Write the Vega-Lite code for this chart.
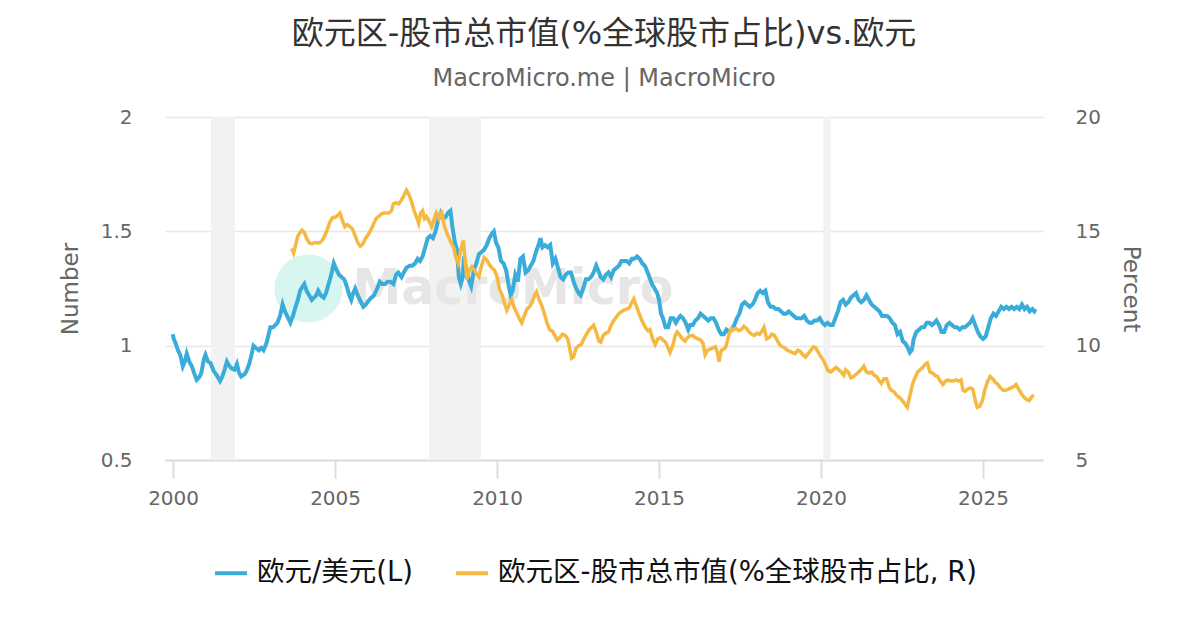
{
  "$schema": "https://vega.github.io/schema/vega-lite/v6.json",
  "width": 878,
  "height": 343,
  "autosize": "none",
  "padding": {"left": 165, "top": 117, "right": 157, "bottom": 170},
  "background": "#ffffff",
  "title": {
    "text": "欧元区-股市总市值(%全球股市占比)vs.欧元",
    "subtitle": "MacroMicro.me | MacroMicro",
    "anchor": "middle",
    "font": "DejaVu Sans, Noto Sans CJK SC",
    "fontSize": 32,
    "fontWeight": "normal",
    "color": "#333333",
    "subtitleFont": "DejaVu Sans",
    "subtitleFontSize": 24,
    "subtitleColor": "#666666",
    "subtitlePadding": 16,
    "offset": 15
  },
  "datasets": {
    "rec": [
      {"s": 2001.17, "e": 2001.91},
      {"s": 2007.9, "e": 2009.5},
      {"s": 2020.07, "e": 2020.29}
    ],
    "fx": [
      {"t": 1999.99, "v": 1.05}, {"t": 2000.02, "v": 1.03}, {"t": 2000.08, "v": 1.01}, {"t": 2000.15, "v": 0.98},
      {"t": 2000.22, "v": 0.96}, {"t": 2000.3, "v": 0.91}, {"t": 2000.36, "v": 0.93}, {"t": 2000.42, "v": 0.965},
      {"t": 2000.5, "v": 0.93}, {"t": 2000.58, "v": 0.91}, {"t": 2000.65, "v": 0.88}, {"t": 2000.73, "v": 0.85},
      {"t": 2000.8, "v": 0.86}, {"t": 2000.87, "v": 0.88}, {"t": 2000.95, "v": 0.94}, {"t": 2001.0, "v": 0.96},
      {"t": 2001.08, "v": 0.93}, {"t": 2001.15, "v": 0.925}, {"t": 2001.25, "v": 0.89}, {"t": 2001.35, "v": 0.87},
      {"t": 2001.45, "v": 0.845}, {"t": 2001.52, "v": 0.865}, {"t": 2001.6, "v": 0.9}, {"t": 2001.66, "v": 0.93},
      {"t": 2001.74, "v": 0.91}, {"t": 2001.81, "v": 0.9}, {"t": 2001.9, "v": 0.895}, {"t": 2001.97, "v": 0.92},
      {"t": 2002.04, "v": 0.88}, {"t": 2002.1, "v": 0.865}, {"t": 2002.2, "v": 0.875}, {"t": 2002.27, "v": 0.89},
      {"t": 2002.35, "v": 0.92}, {"t": 2002.42, "v": 0.96}, {"t": 2002.48, "v": 1.0}, {"t": 2002.56, "v": 0.99},
      {"t": 2002.65, "v": 0.98}, {"t": 2002.72, "v": 0.99}, {"t": 2002.79, "v": 0.98}, {"t": 2002.88, "v": 1.01},
      {"t": 2002.95, "v": 1.05}, {"t": 2003.0, "v": 1.08}, {"t": 2003.08, "v": 1.08}, {"t": 2003.15, "v": 1.09},
      {"t": 2003.22, "v": 1.1}, {"t": 2003.3, "v": 1.13}, {"t": 2003.38, "v": 1.18}, {"t": 2003.45, "v": 1.15},
      {"t": 2003.55, "v": 1.12}, {"t": 2003.62, "v": 1.1}, {"t": 2003.7, "v": 1.13}, {"t": 2003.78, "v": 1.17},
      {"t": 2003.85, "v": 1.2}, {"t": 2003.92, "v": 1.24}, {"t": 2004.0, "v": 1.26}, {"t": 2004.05, "v": 1.27},
      {"t": 2004.12, "v": 1.24}, {"t": 2004.2, "v": 1.22}, {"t": 2004.28, "v": 1.2}, {"t": 2004.35, "v": 1.21},
      {"t": 2004.42, "v": 1.22}, {"t": 2004.48, "v": 1.24}, {"t": 2004.56, "v": 1.22}, {"t": 2004.65, "v": 1.21},
      {"t": 2004.72, "v": 1.23}, {"t": 2004.8, "v": 1.27}, {"t": 2004.88, "v": 1.31}, {"t": 2004.96, "v": 1.36},
      {"t": 2005.05, "v": 1.33}, {"t": 2005.12, "v": 1.31}, {"t": 2005.2, "v": 1.3}, {"t": 2005.28, "v": 1.29},
      {"t": 2005.36, "v": 1.26}, {"t": 2005.44, "v": 1.22}, {"t": 2005.5, "v": 1.2}, {"t": 2005.56, "v": 1.23},
      {"t": 2005.62, "v": 1.25}, {"t": 2005.7, "v": 1.22}, {"t": 2005.8, "v": 1.19}, {"t": 2005.87, "v": 1.17},
      {"t": 2005.95, "v": 1.18}, {"t": 2006.05, "v": 1.2}, {"t": 2006.12, "v": 1.21}, {"t": 2006.2, "v": 1.22},
      {"t": 2006.3, "v": 1.25}, {"t": 2006.38, "v": 1.28}, {"t": 2006.46, "v": 1.27}, {"t": 2006.55, "v": 1.27},
      {"t": 2006.62, "v": 1.28}, {"t": 2006.7, "v": 1.28}, {"t": 2006.8, "v": 1.27}, {"t": 2006.88, "v": 1.31},
      {"t": 2006.95, "v": 1.32}, {"t": 2007.05, "v": 1.3}, {"t": 2007.12, "v": 1.32}, {"t": 2007.2, "v": 1.34},
      {"t": 2007.3, "v": 1.35}, {"t": 2007.38, "v": 1.35}, {"t": 2007.47, "v": 1.36}, {"t": 2007.55, "v": 1.38},
      {"t": 2007.62, "v": 1.37}, {"t": 2007.7, "v": 1.39}, {"t": 2007.78, "v": 1.43}, {"t": 2007.86, "v": 1.47},
      {"t": 2007.94, "v": 1.48}, {"t": 2008.02, "v": 1.47}, {"t": 2008.1, "v": 1.5}, {"t": 2008.18, "v": 1.55},
      {"t": 2008.26, "v": 1.58}, {"t": 2008.32, "v": 1.56}, {"t": 2008.4, "v": 1.56}, {"t": 2008.48, "v": 1.58},
      {"t": 2008.56, "v": 1.59}, {"t": 2008.62, "v": 1.52}, {"t": 2008.7, "v": 1.45}, {"t": 2008.76, "v": 1.42},
      {"t": 2008.82, "v": 1.3}, {"t": 2008.88, "v": 1.27}, {"t": 2008.94, "v": 1.3}, {"t": 2008.98, "v": 1.39},
      {"t": 2009.05, "v": 1.33}, {"t": 2009.12, "v": 1.29}, {"t": 2009.2, "v": 1.26}, {"t": 2009.28, "v": 1.33},
      {"t": 2009.36, "v": 1.36}, {"t": 2009.44, "v": 1.4}, {"t": 2009.52, "v": 1.41}, {"t": 2009.6, "v": 1.42},
      {"t": 2009.68, "v": 1.44}, {"t": 2009.76, "v": 1.47}, {"t": 2009.84, "v": 1.49}, {"t": 2009.9, "v": 1.5},
      {"t": 2009.97, "v": 1.45}, {"t": 2010.04, "v": 1.43}, {"t": 2010.12, "v": 1.37}, {"t": 2010.2, "v": 1.36},
      {"t": 2010.28, "v": 1.33}, {"t": 2010.36, "v": 1.26}, {"t": 2010.42, "v": 1.22}, {"t": 2010.48, "v": 1.24},
      {"t": 2010.56, "v": 1.31}, {"t": 2010.64, "v": 1.28}, {"t": 2010.72, "v": 1.38}, {"t": 2010.8, "v": 1.39},
      {"t": 2010.88, "v": 1.32}, {"t": 2010.96, "v": 1.33}, {"t": 2011.04, "v": 1.35}, {"t": 2011.12, "v": 1.37},
      {"t": 2011.2, "v": 1.41}, {"t": 2011.28, "v": 1.44}, {"t": 2011.34, "v": 1.47}, {"t": 2011.4, "v": 1.43},
      {"t": 2011.48, "v": 1.44}, {"t": 2011.56, "v": 1.43}, {"t": 2011.64, "v": 1.44}, {"t": 2011.72, "v": 1.36},
      {"t": 2011.8, "v": 1.38}, {"t": 2011.88, "v": 1.34}, {"t": 2011.96, "v": 1.3}, {"t": 2012.04, "v": 1.29},
      {"t": 2012.12, "v": 1.31}, {"t": 2012.2, "v": 1.32}, {"t": 2012.28, "v": 1.32}, {"t": 2012.36, "v": 1.28},
      {"t": 2012.44, "v": 1.25}, {"t": 2012.52, "v": 1.23}, {"t": 2012.58, "v": 1.22}, {"t": 2012.66, "v": 1.25},
      {"t": 2012.74, "v": 1.29}, {"t": 2012.82, "v": 1.29}, {"t": 2012.9, "v": 1.3}, {"t": 2012.98, "v": 1.32},
      {"t": 2013.06, "v": 1.35}, {"t": 2013.12, "v": 1.33}, {"t": 2013.2, "v": 1.3}, {"t": 2013.28, "v": 1.29},
      {"t": 2013.36, "v": 1.31}, {"t": 2013.44, "v": 1.32}, {"t": 2013.52, "v": 1.3}, {"t": 2013.6, "v": 1.33},
      {"t": 2013.68, "v": 1.34}, {"t": 2013.76, "v": 1.35}, {"t": 2013.84, "v": 1.37}, {"t": 2013.92, "v": 1.37},
      {"t": 2014.0, "v": 1.37}, {"t": 2014.08, "v": 1.36}, {"t": 2014.16, "v": 1.38}, {"t": 2014.24, "v": 1.38},
      {"t": 2014.32, "v": 1.39}, {"t": 2014.4, "v": 1.38}, {"t": 2014.48, "v": 1.36}, {"t": 2014.56, "v": 1.35},
      {"t": 2014.62, "v": 1.33}, {"t": 2014.7, "v": 1.3}, {"t": 2014.78, "v": 1.27}, {"t": 2014.86, "v": 1.25},
      {"t": 2014.94, "v": 1.23}, {"t": 2015.0, "v": 1.2}, {"t": 2015.06, "v": 1.14}, {"t": 2015.12, "v": 1.12},
      {"t": 2015.2, "v": 1.08}, {"t": 2015.28, "v": 1.08}, {"t": 2015.36, "v": 1.12}, {"t": 2015.44, "v": 1.12},
      {"t": 2015.52, "v": 1.1}, {"t": 2015.6, "v": 1.12}, {"t": 2015.66, "v": 1.13}, {"t": 2015.74, "v": 1.12},
      {"t": 2015.82, "v": 1.1}, {"t": 2015.9, "v": 1.07}, {"t": 2015.96, "v": 1.09}, {"t": 2016.04, "v": 1.09},
      {"t": 2016.12, "v": 1.11}, {"t": 2016.2, "v": 1.12}, {"t": 2016.28, "v": 1.14}, {"t": 2016.36, "v": 1.13},
      {"t": 2016.44, "v": 1.12}, {"t": 2016.52, "v": 1.11}, {"t": 2016.6, "v": 1.12}, {"t": 2016.68, "v": 1.12},
      {"t": 2016.76, "v": 1.1}, {"t": 2016.84, "v": 1.07}, {"t": 2016.92, "v": 1.05}, {"t": 2017.0, "v": 1.05},
      {"t": 2017.08, "v": 1.07}, {"t": 2017.16, "v": 1.06}, {"t": 2017.24, "v": 1.07}, {"t": 2017.32, "v": 1.09},
      {"t": 2017.4, "v": 1.12}, {"t": 2017.48, "v": 1.14}, {"t": 2017.56, "v": 1.18}, {"t": 2017.64, "v": 1.19},
      {"t": 2017.72, "v": 1.18}, {"t": 2017.8, "v": 1.17}, {"t": 2017.88, "v": 1.18}, {"t": 2017.96, "v": 1.2},
      {"t": 2018.04, "v": 1.23}, {"t": 2018.12, "v": 1.24}, {"t": 2018.2, "v": 1.23}, {"t": 2018.28, "v": 1.24},
      {"t": 2018.36, "v": 1.19}, {"t": 2018.44, "v": 1.17}, {"t": 2018.52, "v": 1.17}, {"t": 2018.6, "v": 1.16},
      {"t": 2018.68, "v": 1.16}, {"t": 2018.76, "v": 1.15}, {"t": 2018.84, "v": 1.14}, {"t": 2018.92, "v": 1.14},
      {"t": 2019.0, "v": 1.15}, {"t": 2019.08, "v": 1.14}, {"t": 2019.16, "v": 1.13}, {"t": 2019.24, "v": 1.12},
      {"t": 2019.32, "v": 1.12}, {"t": 2019.4, "v": 1.12}, {"t": 2019.48, "v": 1.13}, {"t": 2019.56, "v": 1.11},
      {"t": 2019.64, "v": 1.1}, {"t": 2019.72, "v": 1.1}, {"t": 2019.8, "v": 1.11}, {"t": 2019.88, "v": 1.11},
      {"t": 2019.96, "v": 1.12}, {"t": 2020.04, "v": 1.1}, {"t": 2020.12, "v": 1.09}, {"t": 2020.2, "v": 1.1},
      {"t": 2020.28, "v": 1.09}, {"t": 2020.36, "v": 1.09}, {"t": 2020.44, "v": 1.12}, {"t": 2020.52, "v": 1.15},
      {"t": 2020.6, "v": 1.19}, {"t": 2020.68, "v": 1.2}, {"t": 2020.76, "v": 1.18}, {"t": 2020.84, "v": 1.19},
      {"t": 2020.92, "v": 1.21}, {"t": 2021.0, "v": 1.22}, {"t": 2021.08, "v": 1.23}, {"t": 2021.16, "v": 1.2},
      {"t": 2021.24, "v": 1.19}, {"t": 2021.32, "v": 1.2}, {"t": 2021.4, "v": 1.22}, {"t": 2021.48, "v": 1.2},
      {"t": 2021.56, "v": 1.18}, {"t": 2021.64, "v": 1.17}, {"t": 2021.72, "v": 1.16}, {"t": 2021.8, "v": 1.15},
      {"t": 2021.88, "v": 1.13}, {"t": 2021.96, "v": 1.13}, {"t": 2022.04, "v": 1.13}, {"t": 2022.12, "v": 1.12},
      {"t": 2022.2, "v": 1.1}, {"t": 2022.28, "v": 1.09}, {"t": 2022.36, "v": 1.05}, {"t": 2022.44, "v": 1.06},
      {"t": 2022.52, "v": 1.02}, {"t": 2022.6, "v": 1.01}, {"t": 2022.68, "v": 0.99}, {"t": 2022.74, "v": 0.97},
      {"t": 2022.8, "v": 0.98}, {"t": 2022.86, "v": 1.03}, {"t": 2022.94, "v": 1.06}, {"t": 2023.02, "v": 1.07},
      {"t": 2023.1, "v": 1.08}, {"t": 2023.18, "v": 1.08}, {"t": 2023.26, "v": 1.1}, {"t": 2023.34, "v": 1.1},
      {"t": 2023.42, "v": 1.09}, {"t": 2023.5, "v": 1.1}, {"t": 2023.56, "v": 1.11}, {"t": 2023.64, "v": 1.09},
      {"t": 2023.72, "v": 1.06}, {"t": 2023.8, "v": 1.06}, {"t": 2023.88, "v": 1.09}, {"t": 2023.96, "v": 1.1},
      {"t": 2024.04, "v": 1.09}, {"t": 2024.12, "v": 1.08}, {"t": 2024.2, "v": 1.08}, {"t": 2024.28, "v": 1.07},
      {"t": 2024.36, "v": 1.08}, {"t": 2024.44, "v": 1.08}, {"t": 2024.52, "v": 1.09}, {"t": 2024.6, "v": 1.1},
      {"t": 2024.68, "v": 1.12}, {"t": 2024.76, "v": 1.09}, {"t": 2024.84, "v": 1.06}, {"t": 2024.92, "v": 1.04},
      {"t": 2025.0, "v": 1.03}, {"t": 2025.08, "v": 1.04}, {"t": 2025.16, "v": 1.08}, {"t": 2025.24, "v": 1.12},
      {"t": 2025.32, "v": 1.14}, {"t": 2025.4, "v": 1.13}, {"t": 2025.48, "v": 1.15}, {"t": 2025.56, "v": 1.17},
      {"t": 2025.64, "v": 1.16}, {"t": 2025.72, "v": 1.17}, {"t": 2025.8, "v": 1.16}, {"t": 2025.88, "v": 1.17},
      {"t": 2025.96, "v": 1.16}, {"t": 2026.04, "v": 1.17}, {"t": 2026.12, "v": 1.16}, {"t": 2026.2, "v": 1.18},
      {"t": 2026.28, "v": 1.16}, {"t": 2026.36, "v": 1.17}, {"t": 2026.44, "v": 1.15}, {"t": 2026.52, "v": 1.16},
      {"t": 2026.58, "v": 1.15}, {"t": 2026.62, "v": 1.16}
    ],
    "mc": [
      {"t": 2003.66, "v": 14.25}, {"t": 2003.72, "v": 14.05}, {"t": 2003.78, "v": 14.4}, {"t": 2003.85, "v": 14.8},
      {"t": 2003.92, "v": 14.95}, {"t": 2003.98, "v": 15.05}, {"t": 2004.05, "v": 14.95}, {"t": 2004.12, "v": 14.7},
      {"t": 2004.2, "v": 14.5}, {"t": 2004.28, "v": 14.45}, {"t": 2004.36, "v": 14.5}, {"t": 2004.44, "v": 14.5},
      {"t": 2004.52, "v": 14.5}, {"t": 2004.6, "v": 14.6}, {"t": 2004.68, "v": 14.8}, {"t": 2004.76, "v": 15.1},
      {"t": 2004.84, "v": 15.4}, {"t": 2004.92, "v": 15.6}, {"t": 2005.0, "v": 15.6}, {"t": 2005.08, "v": 15.7},
      {"t": 2005.15, "v": 15.8}, {"t": 2005.22, "v": 15.5}, {"t": 2005.3, "v": 15.2}, {"t": 2005.38, "v": 15.3},
      {"t": 2005.46, "v": 15.2}, {"t": 2005.54, "v": 15.1}, {"t": 2005.62, "v": 14.8}, {"t": 2005.7, "v": 14.5},
      {"t": 2005.78, "v": 14.35}, {"t": 2005.86, "v": 14.45}, {"t": 2005.94, "v": 14.7}, {"t": 2006.02, "v": 14.85},
      {"t": 2006.1, "v": 15.05}, {"t": 2006.18, "v": 15.3}, {"t": 2006.26, "v": 15.55}, {"t": 2006.34, "v": 15.65},
      {"t": 2006.42, "v": 15.75}, {"t": 2006.5, "v": 15.8}, {"t": 2006.58, "v": 15.8}, {"t": 2006.66, "v": 15.8},
      {"t": 2006.74, "v": 15.9}, {"t": 2006.8, "v": 16.2}, {"t": 2006.88, "v": 16.25}, {"t": 2006.96, "v": 16.2},
      {"t": 2007.04, "v": 16.35}, {"t": 2007.12, "v": 16.55}, {"t": 2007.2, "v": 16.8}, {"t": 2007.28, "v": 16.6},
      {"t": 2007.36, "v": 16.3}, {"t": 2007.44, "v": 15.9}, {"t": 2007.52, "v": 15.6}, {"t": 2007.58, "v": 15.35},
      {"t": 2007.64, "v": 15.8}, {"t": 2007.7, "v": 15.9}, {"t": 2007.76, "v": 15.55}, {"t": 2007.82, "v": 15.65},
      {"t": 2007.9, "v": 15.45}, {"t": 2007.98, "v": 15.2}, {"t": 2008.05, "v": 15.5}, {"t": 2008.12, "v": 15.8},
      {"t": 2008.2, "v": 15.55}, {"t": 2008.28, "v": 15.9}, {"t": 2008.36, "v": 15.3}, {"t": 2008.44, "v": 14.95},
      {"t": 2008.52, "v": 14.7}, {"t": 2008.6, "v": 14.45}, {"t": 2008.66, "v": 14.3}, {"t": 2008.72, "v": 13.9},
      {"t": 2008.8, "v": 13.6}, {"t": 2008.88, "v": 14.2}, {"t": 2008.96, "v": 14.6}, {"t": 2009.02, "v": 13.6},
      {"t": 2009.07, "v": 12.9}, {"t": 2009.14, "v": 13.3}, {"t": 2009.22, "v": 13.45}, {"t": 2009.3, "v": 13.3},
      {"t": 2009.38, "v": 13.1}, {"t": 2009.44, "v": 13.0}, {"t": 2009.52, "v": 13.5}, {"t": 2009.6, "v": 13.85},
      {"t": 2009.68, "v": 13.75}, {"t": 2009.76, "v": 13.55}, {"t": 2009.84, "v": 13.4}, {"t": 2009.92, "v": 13.3},
      {"t": 2010.0, "v": 13.0}, {"t": 2010.08, "v": 12.45}, {"t": 2010.16, "v": 12.2}, {"t": 2010.24, "v": 11.8},
      {"t": 2010.3, "v": 11.55}, {"t": 2010.38, "v": 11.8}, {"t": 2010.45, "v": 12.0}, {"t": 2010.52, "v": 11.7},
      {"t": 2010.6, "v": 11.45}, {"t": 2010.68, "v": 11.2}, {"t": 2010.76, "v": 11.0}, {"t": 2010.84, "v": 11.3},
      {"t": 2010.92, "v": 11.6}, {"t": 2011.0, "v": 11.7}, {"t": 2011.08, "v": 11.9}, {"t": 2011.16, "v": 12.2},
      {"t": 2011.22, "v": 12.35}, {"t": 2011.3, "v": 12.0}, {"t": 2011.38, "v": 11.75}, {"t": 2011.46, "v": 11.4},
      {"t": 2011.54, "v": 11.0}, {"t": 2011.62, "v": 10.7}, {"t": 2011.7, "v": 10.65}, {"t": 2011.78, "v": 10.45},
      {"t": 2011.86, "v": 10.25}, {"t": 2011.94, "v": 10.35}, {"t": 2012.02, "v": 10.5}, {"t": 2012.1, "v": 10.45},
      {"t": 2012.18, "v": 10.3}, {"t": 2012.24, "v": 9.9}, {"t": 2012.3, "v": 9.45}, {"t": 2012.36, "v": 9.5},
      {"t": 2012.44, "v": 9.9}, {"t": 2012.52, "v": 10.0}, {"t": 2012.6, "v": 10.05}, {"t": 2012.68, "v": 10.3},
      {"t": 2012.76, "v": 10.5}, {"t": 2012.84, "v": 10.7}, {"t": 2012.92, "v": 10.8}, {"t": 2012.98, "v": 10.9},
      {"t": 2013.06, "v": 10.6}, {"t": 2013.14, "v": 10.2}, {"t": 2013.2, "v": 10.15}, {"t": 2013.28, "v": 10.45},
      {"t": 2013.36, "v": 10.55}, {"t": 2013.44, "v": 10.6}, {"t": 2013.52, "v": 10.9}, {"t": 2013.6, "v": 11.1},
      {"t": 2013.68, "v": 11.25}, {"t": 2013.76, "v": 11.4}, {"t": 2013.84, "v": 11.5}, {"t": 2013.92, "v": 11.55},
      {"t": 2014.0, "v": 11.6}, {"t": 2014.08, "v": 11.65}, {"t": 2014.16, "v": 11.9}, {"t": 2014.22, "v": 12.05},
      {"t": 2014.28, "v": 11.8}, {"t": 2014.36, "v": 11.5}, {"t": 2014.44, "v": 11.2}, {"t": 2014.52, "v": 10.95},
      {"t": 2014.6, "v": 10.75}, {"t": 2014.66, "v": 10.65}, {"t": 2014.72, "v": 10.7}, {"t": 2014.8, "v": 10.3},
      {"t": 2014.88, "v": 10.05}, {"t": 2014.96, "v": 10.3}, {"t": 2015.04, "v": 10.35}, {"t": 2015.12, "v": 10.25},
      {"t": 2015.2, "v": 10.15}, {"t": 2015.28, "v": 9.9}, {"t": 2015.34, "v": 9.7}, {"t": 2015.42, "v": 10.0},
      {"t": 2015.5, "v": 10.45}, {"t": 2015.56, "v": 10.6}, {"t": 2015.64, "v": 10.45}, {"t": 2015.72, "v": 10.3},
      {"t": 2015.8, "v": 10.2}, {"t": 2015.88, "v": 10.35}, {"t": 2015.96, "v": 10.45}, {"t": 2016.04, "v": 10.45},
      {"t": 2016.12, "v": 10.35}, {"t": 2016.2, "v": 10.3}, {"t": 2016.28, "v": 10.25}, {"t": 2016.36, "v": 10.1},
      {"t": 2016.42, "v": 9.6}, {"t": 2016.5, "v": 9.8}, {"t": 2016.58, "v": 9.85}, {"t": 2016.66, "v": 9.9},
      {"t": 2016.74, "v": 9.95}, {"t": 2016.8, "v": 9.7}, {"t": 2016.85, "v": 9.3}, {"t": 2016.92, "v": 9.8},
      {"t": 2017.0, "v": 9.85}, {"t": 2017.06, "v": 9.95}, {"t": 2017.14, "v": 10.4}, {"t": 2017.22, "v": 10.75},
      {"t": 2017.3, "v": 10.7}, {"t": 2017.38, "v": 10.75}, {"t": 2017.46, "v": 10.65}, {"t": 2017.54, "v": 10.7},
      {"t": 2017.62, "v": 10.85}, {"t": 2017.7, "v": 10.75}, {"t": 2017.78, "v": 10.6}, {"t": 2017.86, "v": 10.5},
      {"t": 2017.94, "v": 10.45}, {"t": 2018.02, "v": 10.55}, {"t": 2018.1, "v": 10.5}, {"t": 2018.18, "v": 10.65},
      {"t": 2018.24, "v": 10.8}, {"t": 2018.32, "v": 10.3}, {"t": 2018.4, "v": 10.35}, {"t": 2018.48, "v": 10.5},
      {"t": 2018.56, "v": 10.45}, {"t": 2018.64, "v": 10.25}, {"t": 2018.72, "v": 10.05}, {"t": 2018.8, "v": 9.95},
      {"t": 2018.88, "v": 9.9}, {"t": 2018.96, "v": 9.8}, {"t": 2019.04, "v": 9.75}, {"t": 2019.12, "v": 9.7},
      {"t": 2019.2, "v": 9.65}, {"t": 2019.28, "v": 9.8}, {"t": 2019.36, "v": 9.75}, {"t": 2019.44, "v": 9.6},
      {"t": 2019.52, "v": 9.5}, {"t": 2019.6, "v": 9.65}, {"t": 2019.68, "v": 9.8}, {"t": 2019.76, "v": 9.95},
      {"t": 2019.84, "v": 9.9}, {"t": 2019.92, "v": 9.7}, {"t": 2020.0, "v": 9.5}, {"t": 2020.06, "v": 9.4},
      {"t": 2020.14, "v": 9.15}, {"t": 2020.22, "v": 8.9}, {"t": 2020.3, "v": 8.85}, {"t": 2020.38, "v": 8.95},
      {"t": 2020.46, "v": 9.05}, {"t": 2020.54, "v": 8.95}, {"t": 2020.62, "v": 8.85}, {"t": 2020.7, "v": 8.7},
      {"t": 2020.76, "v": 8.95}, {"t": 2020.84, "v": 8.85}, {"t": 2020.92, "v": 8.6}, {"t": 2021.0, "v": 8.65},
      {"t": 2021.08, "v": 8.75}, {"t": 2021.16, "v": 8.85}, {"t": 2021.24, "v": 8.95}, {"t": 2021.32, "v": 9.1},
      {"t": 2021.4, "v": 8.85}, {"t": 2021.48, "v": 8.8}, {"t": 2021.56, "v": 8.85}, {"t": 2021.64, "v": 8.7},
      {"t": 2021.72, "v": 8.65}, {"t": 2021.8, "v": 8.45}, {"t": 2021.86, "v": 8.35}, {"t": 2021.94, "v": 8.55},
      {"t": 2022.02, "v": 8.55}, {"t": 2022.1, "v": 8.2}, {"t": 2022.16, "v": 8.05}, {"t": 2022.24, "v": 8.0},
      {"t": 2022.32, "v": 7.85}, {"t": 2022.4, "v": 7.75}, {"t": 2022.48, "v": 7.65}, {"t": 2022.56, "v": 7.5},
      {"t": 2022.66, "v": 7.3}, {"t": 2022.74, "v": 7.8}, {"t": 2022.82, "v": 8.3}, {"t": 2022.9, "v": 8.6},
      {"t": 2022.98, "v": 8.85}, {"t": 2023.06, "v": 8.95}, {"t": 2023.14, "v": 9.05}, {"t": 2023.22, "v": 9.2},
      {"t": 2023.28, "v": 9.25}, {"t": 2023.36, "v": 8.85}, {"t": 2023.44, "v": 8.8}, {"t": 2023.52, "v": 8.7},
      {"t": 2023.6, "v": 8.65}, {"t": 2023.68, "v": 8.45}, {"t": 2023.76, "v": 8.3}, {"t": 2023.84, "v": 8.45},
      {"t": 2023.92, "v": 8.5}, {"t": 2024.0, "v": 8.45}, {"t": 2024.08, "v": 8.45}, {"t": 2024.16, "v": 8.5},
      {"t": 2024.24, "v": 8.45}, {"t": 2024.32, "v": 8.5}, {"t": 2024.38, "v": 8.05}, {"t": 2024.44, "v": 8.0},
      {"t": 2024.52, "v": 8.1}, {"t": 2024.6, "v": 8.15}, {"t": 2024.68, "v": 8.1}, {"t": 2024.76, "v": 7.6},
      {"t": 2024.82, "v": 7.3}, {"t": 2024.9, "v": 7.35}, {"t": 2024.98, "v": 7.6}, {"t": 2025.06, "v": 8.1},
      {"t": 2025.14, "v": 8.45}, {"t": 2025.22, "v": 8.65}, {"t": 2025.3, "v": 8.55}, {"t": 2025.38, "v": 8.4},
      {"t": 2025.46, "v": 8.3}, {"t": 2025.54, "v": 8.15}, {"t": 2025.62, "v": 8.05}, {"t": 2025.7, "v": 8.05},
      {"t": 2025.78, "v": 8.1}, {"t": 2025.86, "v": 8.15}, {"t": 2025.94, "v": 8.2}, {"t": 2026.02, "v": 8.3},
      {"t": 2026.1, "v": 8.1}, {"t": 2026.18, "v": 7.9}, {"t": 2026.26, "v": 7.75}, {"t": 2026.34, "v": 7.65},
      {"t": 2026.42, "v": 7.6}, {"t": 2026.5, "v": 7.75}, {"t": 2026.56, "v": 7.85}
    ]
  },
  "layer": [
    {
      "data": {"name": "rec"},
      "mark": {"type": "rect", "color": "#f2f2f2"},
      "encoding": {
        "x": {
          "field": "s", "type": "quantitative",
          "scale": {"domain": [1999.75, 2026.85], "nice": false, "zero": false},
          "axis": {
            "values": [2000, 2005, 2010, 2015, 2020, 2025],
            "format": "d",
            "title": null,
            "grid": false,
            "domain": true, "domainColor": "#dddddd", "domainWidth": 2,
            "ticks": true, "tickColor": "#dddddd", "tickWidth": 2, "tickSize": 18,
            "labelFont": "DejaVu Sans", "labelFontSize": 20, "labelColor": "#666666",
            "labelPadding": 10
          }
        },
        "x2": {"field": "e"}
      }
    },
    {
      "data": {"values": [{}]},
      "mark": {"type": "point", "filled": true, "shape": "circle", "color": "#d6f6ef", "opacity": 1, "size": 4650},
      "encoding": {
        "x": {"datum": 2004.18, "type": "quantitative"},
        "y": {"datum": 1.25, "type": "quantitative", "scale": {"domain": [0.5, 2], "nice": false, "zero": false}, "axis": null}
      }
    },
    {
      "data": {"values": [{}]},
      "mark": {"type": "text", "text": "MacroMicro", "font": "DejaVu Sans", "fontWeight": "bold", "fontSize": 49, "color": "#e6e6e6", "align": "center", "baseline": "middle"},
      "encoding": {
        "x": {"datum": 2010.49, "type": "quantitative"},
        "y": {"datum": 1.25, "type": "quantitative", "scale": {"domain": [0.5, 2], "nice": false, "zero": false}, "axis": null}
      }
    },
    {
      "data": {"name": "fx"},
      "mark": {"type": "line", "strokeWidth": 4, "interpolate": "linear"},
      "encoding": {
        "x": {"field": "t", "type": "quantitative"},
        "y": {
          "field": "v", "type": "quantitative",
          "scale": {"domain": [0.5, 2], "nice": false, "zero": false},
          "axis": {
            "orient": "left",
            "values": [0.5, 1, 1.5, 2],
            "labelExpr": "'' + datum.value",
            "title": "Number",
            "titleFont": "DejaVu Sans", "titleFontSize": 23, "titleFontWeight": "normal", "titleColor": "#666666",
            "titlePadding": 18,
            "labelFont": "DejaVu Sans", "labelFontSize": 20, "labelColor": "#666666",
            "labelPadding": 33,
            "domain": false, "ticks": false,
            "grid": true, "gridColor": "#e6e6e6", "gridWidth": 1.5
          }
        },
        "color": {
          "datum": "欧元/美元(L)",
          "scale": {
            "domain": ["欧元/美元(L)", "欧元区-股市总市值(%全球股市占比, R)"],
            "range": ["#3aacda", "#f5b942"]
          },
          "legend": {
            "orient": "none", "legendX": 48, "legendY": 438,
            "direction": "horizontal", "title": null,
            "symbolType": "stroke", "symbolSize": 1024, "symbolStrokeWidth": 4,
            "labelFont": "DejaVu Sans, Noto Sans CJK SC", "labelFontSize": 27.5, "labelColor": "#111111",
            "labelOffset": 8, "columnPadding": 34, "labelLimit": 0
          }
        }
      }
    },
    {
      "data": {"name": "mc"},
      "mark": {"type": "line", "strokeWidth": 3.5, "interpolate": "linear"},
      "encoding": {
        "x": {"field": "t", "type": "quantitative"},
        "y": {
          "field": "v", "type": "quantitative",
          "scale": {"domain": [5, 20], "nice": false, "zero": false},
          "axis": {
            "orient": "right",
            "values": [5, 10, 15, 20],
            "format": "d",
            "title": "Percent",
            "titleFont": "DejaVu Sans", "titleFontSize": 23, "titleFontWeight": "normal", "titleColor": "#666666",
            "titlePadding": 18,
            "labelFont": "DejaVu Sans", "labelFontSize": 20, "labelColor": "#666666",
            "labelPadding": 32,
            "domain": false, "ticks": false, "grid": false
          }
        },
        "color": {"datum": "欧元区-股市总市值(%全球股市占比, R)"}
      }
    }
  ],
  "resolve": {"scale": {"y": "independent"}},
  "config": {
    "view": {"stroke": null}
  }
}
